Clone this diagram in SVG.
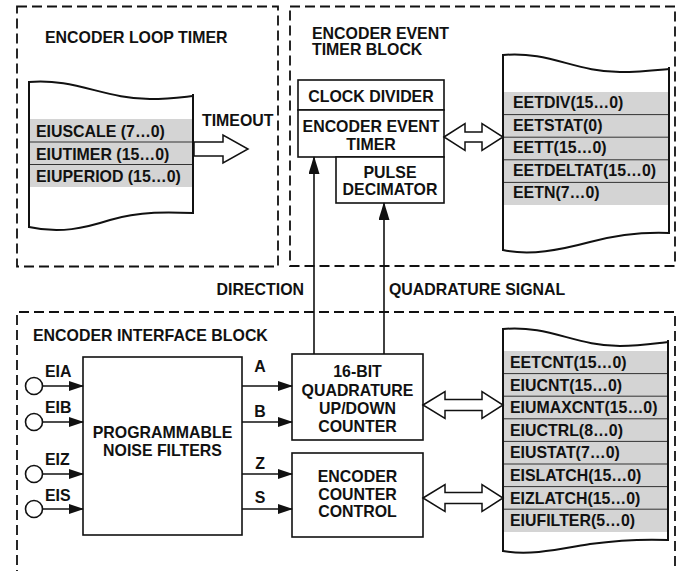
<svg xmlns="http://www.w3.org/2000/svg" width="679" height="571" viewBox="0 0 679 571">
<defs>
<style>
text{font-family:"Liberation Sans",Arial,sans-serif;font-weight:bold;font-size:15.9px;fill:#111}
.mid{text-anchor:middle}
.dash{fill:none;stroke:#111;stroke-width:1.8;stroke-dasharray:10 5}
.box{fill:#fff;stroke:#111;stroke-width:1.6}
.scroll{fill:none;stroke:#111;stroke-width:2}
.bg{fill:#fff;stroke:none}
.shade{fill:#d4d4d4}
.row{stroke:#333;stroke-width:1}
.wire{fill:none;stroke:#111;stroke-width:1.6}
.hollow{fill:#fff;stroke:#111;stroke-width:1.5;stroke-linejoin:miter}
.pin{fill:#fff;stroke:#111;stroke-width:1.6}
</style>
<marker id="ah" markerWidth="15" markerHeight="10" refX="14" refY="5" orient="auto" markerUnits="userSpaceOnUse">
<path d="M0,0 L15,5 L0,10 z" fill="#111"/>
</marker>
<marker id="ahu" markerWidth="18" markerHeight="11" refX="17" refY="5.5" orient="auto" markerUnits="userSpaceOnUse">
<path d="M0,0 L18,5.5 L0,11 z" fill="#111"/>
</marker>
</defs>

<!-- Encoder Loop Timer block -->
<g id="encoder-loop-timer">
<rect class="dash" x="17" y="6.5" width="261" height="260"/>
<text x="45" y="43">ENCODER LOOP TIMER</text>
<path class="bg" d="M29,82 C75,78 105,99 150,99 C170,99 183,97 193,96 L193,213 C170,212 140,211 110,220 C85,228 60,234 29,227 Z"/>
<rect class="shade" x="29" y="119" width="164" height="68"/>
<line class="row" x1="29" y1="142" x2="193" y2="142"/>
<line class="row" x1="29" y1="164.5" x2="193" y2="164.5"/>
<path class="scroll" d="M29,82 C75,78 105,99 150,99 C170,99 183,97 193,96"/>
<path class="scroll" d="M29,227 C60,234 85,228 110,220 C140,211 170,212 193,213"/>
<line class="scroll" x1="29" y1="81" x2="29" y2="228"/>
<line class="scroll" x1="193" y1="94" x2="193" y2="214"/>
<text x="36" y="137">EIUSCALE (7…0)</text>
<text x="36" y="160">EIUTIMER (15…0)</text>
<text x="36" y="182">EIUPERIOD (15…0)</text>
<text x="202" y="126">TIMEOUT</text>
<polygon class="hollow" points="194,142 223,142 223,135 248,149 223,163 223,156 194,156"/>
</g>

<!-- Encoder Event Timer block -->
<g id="encoder-event-timer-block">
<rect class="dash" x="290" y="6.5" width="385" height="259.5"/>
<text x="312" y="39">ENCODER EVENT</text>
<text x="312" y="55">TIMER BLOCK</text>
</g>

<g id="clock-divider">
<rect class="box" x="298" y="80" width="146" height="30"/>
<text class="mid" x="371" y="102">CLOCK DIVIDER</text>
</g>
<g id="encoder-event-timer">
<rect class="box" x="298" y="110" width="146" height="47"/>
<text class="mid" x="371" y="132">ENCODER EVENT</text>
<text class="mid" x="371" y="150">TIMER</text>
</g>
<g id="pulse-decimator">
<rect class="box" x="336" y="157" width="108" height="46"/>
<text class="mid" x="390" y="178">PULSE</text>
<text class="mid" x="390" y="195">DECIMATOR</text>
</g>

<g id="eet-registers">
<path class="bg" d="M503,55 C550,51 575,72 620,72 C640,72 658,70 669,69 L669,233 C645,232 620,234 590,242 C560,250 530,256 503,250 Z"/>
<rect class="shade" x="503" y="92" width="166" height="113"/>
<line class="row" x1="503" y1="114.6" x2="669" y2="114.6"/>
<line class="row" x1="503" y1="137.2" x2="669" y2="137.2"/>
<line class="row" x1="503" y1="159.8" x2="669" y2="159.8"/>
<line class="row" x1="503" y1="182.4" x2="669" y2="182.4"/>
<path class="scroll" d="M503,55 C550,51 575,72 620,72 C640,72 658,70 669,69"/>
<path class="scroll" d="M503,250 C530,256 560,250 590,242 C620,234 645,232 669,233"/>
<line class="scroll" x1="503" y1="54" x2="503" y2="251"/>
<line class="scroll" x1="669" y1="67" x2="669" y2="234"/>
<text x="513" y="108">EETDIV(15…0)</text>
<text x="513" y="130.5">EETSTAT(0)</text>
<text x="513" y="153">EETT(15…0)</text>
<text x="513" y="175.5">EETDELTAT(15…0)</text>
<text x="513" y="198">EETN(7…0)</text>
</g>

<!-- Encoder Interface block -->
<g id="encoder-interface-block">
<path class="dash" d="M17,580 L17,312 L675,312 L675,580"/>
<text x="33" y="341">ENCODER INTERFACE BLOCK</text>
</g>

<g id="noise-filters">
<rect class="box" x="83" y="357" width="159" height="178"/>
<text class="mid" x="162.5" y="438">PROGRAMMABLE</text>
<text class="mid" x="162.5" y="455.5">NOISE FILTERS</text>
</g>

<g id="quadrature-counter">
<rect class="box" x="292" y="354" width="131" height="86"/>
<text class="mid" x="357.5" y="377">16-BIT</text>
<text class="mid" x="357.5" y="396">QUADRATURE</text>
<text class="mid" x="357.5" y="414">UP/DOWN</text>
<text class="mid" x="357.5" y="432">COUNTER</text>
</g>

<g id="counter-control">
<rect class="box" x="292" y="453" width="131" height="84"/>
<text class="mid" x="357.5" y="482">ENCODER</text>
<text class="mid" x="357.5" y="500">COUNTER</text>
<text class="mid" x="357.5" y="517">CONTROL</text>
</g>

<g id="pin-eia"><circle class="pin" cx="34" cy="386" r="8.5"/><text x="45" y="377">EIA</text></g>
<g id="pin-eib"><circle class="pin" cx="34" cy="422" r="8.5"/><text x="45" y="413">EIB</text></g>
<g id="pin-eiz"><circle class="pin" cx="34" cy="474" r="8.5"/><text x="45" y="465">EIZ</text></g>
<g id="pin-eis"><circle class="pin" cx="34" cy="509" r="8.5"/><text x="45" y="501">EIS</text></g>

<g id="eiu-registers">
<path class="bg" d="M503,329 C550,325 575,346 620,346 C640,346 658,343 668,342 L668,540 C645,539 620,540 590,544 C560,549 530,556 503,551 Z"/>
<rect class="shade" x="503" y="351" width="165" height="181"/>
<line class="row" x1="503" y1="373.6" x2="668" y2="373.6"/>
<line class="row" x1="503" y1="396.2" x2="668" y2="396.2"/>
<line class="row" x1="503" y1="418.8" x2="668" y2="418.8"/>
<line class="row" x1="503" y1="441.4" x2="668" y2="441.4"/>
<line class="row" x1="503" y1="464" x2="668" y2="464"/>
<line class="row" x1="503" y1="486.6" x2="668" y2="486.6"/>
<line class="row" x1="503" y1="509.2" x2="668" y2="509.2"/>
<path class="scroll" d="M503,329 C550,325 575,346 620,346 C640,346 658,343 668,342"/>
<path class="scroll" d="M503,551 C530,556 560,549 590,544 C620,540 645,539 668,540"/>
<line class="scroll" x1="503" y1="328" x2="503" y2="552"/>
<line class="scroll" x1="668" y1="340" x2="668" y2="541"/>
<text x="510" y="368">EETCNT(15…0)</text>
<text x="510" y="390.5">EIUCNT(15…0)</text>
<text x="510" y="413">EIUMAXCNT(15…0)</text>
<text x="510" y="435.5">EIUCTRL(8…0)</text>
<text x="510" y="458">EIUSTAT(7…0)</text>
<text x="510" y="481">EISLATCH(15…0)</text>
<text x="510" y="503.5">EIZLATCH(15…0)</text>
<text x="510" y="526">EIUFILTER(5…0)</text>
</g>

<!-- Connectors -->
<g id="connectors">
<line class="wire" x1="42.5" y1="386" x2="83" y2="386" marker-end="url(#ah)"/>
<line class="wire" x1="42.5" y1="422" x2="83" y2="422" marker-end="url(#ah)"/>
<line class="wire" x1="42.5" y1="474" x2="83" y2="474" marker-end="url(#ah)"/>
<line class="wire" x1="42.5" y1="509" x2="83" y2="509" marker-end="url(#ah)"/>

<line class="wire" x1="242" y1="386" x2="292" y2="386" marker-end="url(#ah)"/>
<line class="wire" x1="242" y1="422" x2="292" y2="422" marker-end="url(#ah)"/>
<line class="wire" x1="242" y1="474" x2="292" y2="474" marker-end="url(#ah)"/>
<line class="wire" x1="242" y1="509" x2="292" y2="509" marker-end="url(#ah)"/>
<text class="mid" x="260" y="372">A</text>
<text class="mid" x="260" y="417">B</text>
<text class="mid" x="260" y="469">Z</text>
<text class="mid" x="260" y="503">S</text>

<line class="wire" x1="314" y1="354" x2="314" y2="157" marker-end="url(#ahu)"/>
<line class="wire" x1="384" y1="354" x2="384" y2="203" marker-end="url(#ahu)"/>
<text x="304" y="295" text-anchor="end">DIRECTION</text>
<text x="389" y="295">QUADRATURE SIGNAL</text>

<polygon class="hollow" points="444,137 465,123.5 465,132 482,132 482,123.5 503,137 482,150.5 482,142 465,142 465,150.5"/>
<polygon class="hollow" points="423,405 445,391.5 445,399.5 482,399.5 482,391.5 503,405 482,418.5 482,410.5 445,410.5 445,418.5"/>
<polygon class="hollow" points="423,498 445,484.5 445,492.5 482,492.5 482,484.5 503,498 482,511.5 482,503.5 445,503.5 445,511.5"/>
</g>
</svg>
